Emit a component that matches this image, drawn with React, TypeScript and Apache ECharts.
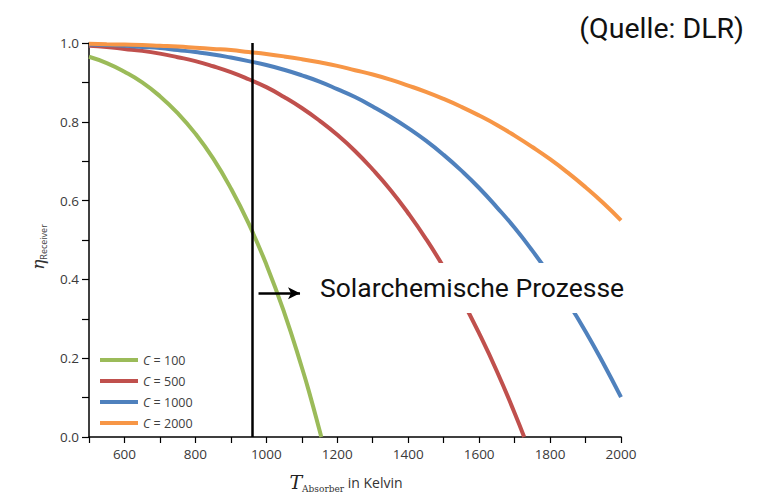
import React, { useEffect, useRef } from "react";
import * as echarts from "echarts";

const seriesNames = ["C = 100", "C = 500", "C = 1000", "C = 2000"];
const seriesColors = ["#9BBB59", "#C0504D", "#4F81BD", "#F79646"];

const tGreen = [500, 550, 600, 650, 700, 750, 800, 850, 900, 950, 1000, 1050, 1100, 1125, 1150, 1155];
const vGreen = [0.965, 0.949, 0.927, 0.9, 0.865, 0.822, 0.77, 0.707, 0.631, 0.542, 0.438, 0.317, 0.177, 0.1, 0.017, 0.0];

const tRed = [500, 550, 600, 650, 700, 750, 800, 850, 900, 950, 1000, 1050, 1100, 1150, 1200, 1250, 1300, 1350, 1400, 1450, 1500, 1550, 1600, 1650, 1700, 1727];
const vRed = [0.993, 0.99, 0.985, 0.98, 0.973, 0.964, 0.954, 0.941, 0.926, 0.908, 0.888, 0.863, 0.835, 0.803, 0.767, 0.726, 0.679, 0.627, 0.568, 0.503, 0.431, 0.351, 0.263, 0.167, 0.061, 0.0];

const tFull = [500, 550, 600, 650, 700, 750, 800, 850, 900, 950, 1000, 1050, 1100, 1150, 1200, 1250, 1300, 1350, 1400, 1450, 1500, 1550, 1600, 1650, 1700, 1750, 1800, 1850, 1900, 1950, 2000];
const vBlue = [0.996, 0.995, 0.993, 0.99, 0.987, 0.982, 0.977, 0.971, 0.963, 0.954, 0.944, 0.932, 0.918, 0.902, 0.883, 0.863, 0.839, 0.813, 0.784, 0.752, 0.716, 0.676, 0.632, 0.583, 0.531, 0.473, 0.41, 0.342, 0.268, 0.187, 0.101];
const vOrange = [0.998, 0.997, 0.996, 0.995, 0.993, 0.991, 0.988, 0.985, 0.982, 0.977, 0.972, 0.966, 0.959, 0.951, 0.942, 0.931, 0.92, 0.907, 0.892, 0.876, 0.858, 0.838, 0.816, 0.792, 0.765, 0.736, 0.705, 0.671, 0.634, 0.594, 0.55];

const markerTemp = 960;
const arrowStart = [978, 0.365];
const arrowEnd = [1095, 0.365];

const sourceText = "(Quelle: DLR)";
const annotationText = "Solarchemische Prozesse";

const zip = (xs: number[], ys: number[]) => xs.map((x, i) => [x, ys[i]]);

export default function App() {
  const ref = useRef<HTMLDivElement>(null);
  useEffect(() => {
    if (!ref.current) return;
    document.body.style.margin = "0";
    const chart = echarts.init(ref.current, undefined, { renderer: "svg" });
    const data = [zip(tGreen, vGreen), zip(tRed, vRed), zip(tFull, vBlue), zip(tFull, vOrange)];
    const axisFont = { fontFamily: "Open Sans", fontSize: 13.5, color: "#3a3a3a" };
    chart.setOption({
      animation: false,
      backgroundColor: "#ffffff",
      grid: { left: 89, right: 146, top: 43, bottom: 60 },
      legend: {
        orient: "vertical",
        left: 95,
        top: 348,
        icon: "rect",
        itemWidth: 38,
        itemHeight: 4,
        itemGap: 7,
        data: seriesNames,
        formatter: (name: string) => "{i|C}{n|" + name.slice(1) + "}",
        textStyle: {
          fontFamily: "Open Sans",
          fontSize: 12.5,
          color: "#404040",
          lineHeight: 14,
          rich: {
            i: { fontStyle: "italic", fontSize: 12.5, fontFamily: "Open Sans", color: "#404040" },
            n: { fontSize: 12.5, fontFamily: "Open Sans", color: "#404040" },
          },
        },
      },
      xAxis: {
        type: "value",
        min: 500,
        max: 2000,
        interval: 100,
        splitLine: { show: false },
        axisLine: { lineStyle: { color: "#000", width: 1.5 } },
        axisTick: { show: true, length: 6, lineStyle: { color: "#000", width: 1.2 } },
        axisLabel: {
          ...axisFont,
          margin: 10,
          formatter: (v: number) => (v % 200 === 0 ? String(v) : ""),
        },
      },
      yAxis: {
        type: "value",
        min: 0,
        max: 1,
        interval: 0.1,
        splitLine: { show: false },
        axisLine: { show: true, lineStyle: { color: "#000", width: 1.5 } },
        axisTick: { show: true, length: 7, lineStyle: { color: "#000", width: 1.2 } },
        axisLabel: {
          ...axisFont,
          margin: 10,
          formatter: (v: number) => {
            const r = Math.round(v * 10);
            return r % 2 === 0 ? (r / 10).toFixed(1) : "";
          },
        },
      },
      series: data.map((d, i) => ({
        name: seriesNames[i],
        type: "line",
        data: d,
        smooth: 0.5,
        symbol: "none",
        lineStyle: { color: seriesColors[i], width: 4 },
        itemStyle: { color: seriesColors[i] },
        z: 2,
        ...(i === 0
          ? {
              markLine: {
                silent: true,
                animation: false,
                label: { show: false },
                data: [
                  [
                    { xAxis: markerTemp, yAxis: 0, symbol: "none" },
                    { xAxis: markerTemp, yAxis: 1, symbol: "none" },
                  ],
                  [
                    { coord: arrowStart, symbol: "none" },
                    { coord: arrowEnd, symbol: "arrow", symbolSize: [9, 12] },
                  ],
                ],
                lineStyle: { color: "#000", width: 2.5, type: "solid" },
              },
            }
          : {}),
      })),
      graphic: [
        {
          type: "rect",
          shape: { x: 310, y: 263, width: 322, height: 50 },
          style: { fill: "#ffffff" },
          z: 100,
        },
        {
          type: "text",
          x: 320,
          y: 287,
          z: 101,
          style: {
            text: annotationText,
            fontFamily: "Roboto",
            fontSize: 26.5,
            fill: "#111",
            verticalAlign: "middle",
          },
        },
        {
          type: "text",
          x: 744,
          y: 28,
          z: 101,
          style: {
            text: sourceText,
            fontFamily: "Roboto",
            fontSize: 28.5,
            fill: "#111",
            align: "right",
            verticalAlign: "middle",
          },
        },
        {
          type: "text",
          x: 38,
          y: 247,
          rotation: Math.PI / 2,
          z: 101,
          style: {
            text: "{e|η}{s|Receiver}",
            align: "center",
            verticalAlign: "middle",
            rich: {
              e: { fontFamily: "DejaVu Serif", fontStyle: "italic", fontSize: 17, fill: "#333", lineHeight: 20 },
              s: { fontFamily: "Open Sans", fontSize: 9, fill: "#444", verticalAlign: "bottom" },
            },
          },
        },
        {
          type: "text",
          x: 346,
          y: 482,
          z: 101,
          style: {
            text: "{t|T}{s|Absorber}{k| in Kelvin}",
            align: "center",
            verticalAlign: "middle",
            rich: {
              t: { fontFamily: "DejaVu Serif", fontStyle: "italic", fontSize: 19, fill: "#222", lineHeight: 22 },
              s: { fontFamily: "DejaVu Serif", fontSize: 9, fill: "#333", verticalAlign: "bottom" },
              k: { fontFamily: "Open Sans", fontSize: 14, fill: "#333" },
            },
          },
        },
      ],
    });
    return () => chart.dispose();
  }, []);
  return <div ref={ref} style={{ width: 767, height: 497 }} />;
}
